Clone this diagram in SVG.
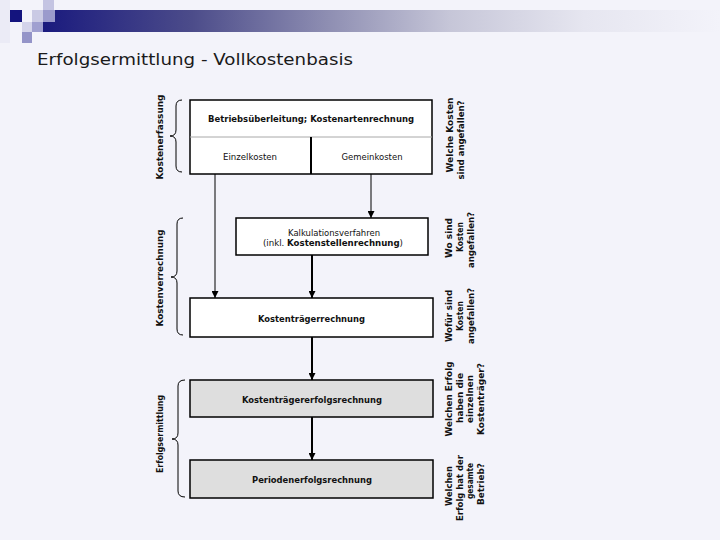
<svg xmlns="http://www.w3.org/2000/svg" width="720" height="540" viewBox="0 0 720 540">
<defs>
<linearGradient id="bar" x1="0" y1="0" x2="1" y2="0">
<stop offset="0" stop-color="#1a1a7e"/>
<stop offset="0.22" stop-color="#4c4c8a"/>
<stop offset="0.42" stop-color="#8e8eb2"/>
<stop offset="0.6" stop-color="#c6c6d8"/>
<stop offset="0.8" stop-color="#e6e6f0"/>
<stop offset="1" stop-color="#f3f3fa"/>
</linearGradient>
<marker id="ah" viewBox="0 0 8 8" refX="8" refY="4" markerWidth="7" markerHeight="7" markerUnits="userSpaceOnUse" orient="auto">
<path d="M0,0 L8,4 L0,8 z" fill="#000"/>
</marker>
</defs>
<style>
.t{font-family:"DejaVu Sans","Liberation Sans",sans-serif;fill:#111;}
.b{font-weight:bold;}
.s8{font-size:8.5px;}
.s9{font-size:9px;}
.box{fill:#fff;stroke:#000;stroke-width:1.5;}
.gbox{fill:#dedede;stroke:#000;stroke-width:1.5;}
.thin{stroke:#000;stroke-width:1;fill:none;}
.thick{stroke:#000;stroke-width:2;fill:none;}
.brace{stroke:#000;stroke-width:1;fill:none;}
</style>
<rect x="0" y="0" width="720" height="540" fill="#f3f3fa"/>
<g id="decoration">
<rect x="43" y="10" width="677" height="22" fill="url(#bar)"/>
<rect x="0" y="0" width="10" height="43" fill="#ebebf6"/>
<rect x="10" y="10" width="12" height="12" fill="#14147e"/>
<rect x="22" y="22" width="10" height="10" fill="#d4d4ea"/>
<rect x="32" y="10" width="11" height="12" fill="#cacae4"/>
<rect x="43" y="0" width="11" height="10" fill="#c4c4e2"/>
<rect x="43" y="10" width="12" height="12" fill="#9a9acc"/>
<rect x="32" y="22" width="11" height="10" fill="#a0a0d0"/>
<rect x="22" y="32" width="10" height="11" fill="#9494c8"/>
</g>
<text id="title" class="t" x="37" y="65" font-size="15.5" textLength="316" lengthAdjust="spacingAndGlyphs" style="fill:#1a1a1a">Erfolgsermittlung - Vollkostenbasis</text>
<g id="connectors">
<line class="thin" x1="215" y1="174" x2="215" y2="298" marker-end="url(#ah)"/>
<line class="thin" x1="371" y1="174" x2="371" y2="218" marker-end="url(#ah)"/>
<line class="thick" x1="312" y1="255" x2="312" y2="298" marker-end="url(#ah)"/>
<line class="thick" x1="312" y1="337" x2="312" y2="380" marker-end="url(#ah)"/>
<line class="thick" x1="312" y1="417" x2="312" y2="460" marker-end="url(#ah)"/>
</g>
<g id="box-kostenarten">
<rect class="box" x="190" y="100" width="242" height="74"/>
<line x1="190" y1="137" x2="432" y2="137" stroke="#a8a8a8" stroke-width="1"/>
<line x1="311" y1="137" x2="311" y2="174" stroke="#000" stroke-width="2"/>
<text class="t b s8" x="311" y="122" text-anchor="middle" textLength="206" lengthAdjust="spacingAndGlyphs">Betriebsüberleitung; Kostenartenrechnung</text>
<text class="t s8" x="250" y="160" text-anchor="middle" textLength="54" lengthAdjust="spacingAndGlyphs">Einzelkosten</text>
<text class="t s8" x="372" y="160" text-anchor="middle" textLength="61" lengthAdjust="spacingAndGlyphs">Gemeinkosten</text>
</g>
<g id="box-kalkulation">
<rect class="box" x="236" y="218" width="192" height="37"/>
<text class="t s8" x="334" y="236" text-anchor="middle" textLength="92" lengthAdjust="spacingAndGlyphs">Kalkulationsverfahren</text>
<text class="t s8" x="333" y="246" text-anchor="middle" textLength="140" lengthAdjust="spacingAndGlyphs">(inkl. <tspan class="b">Kostenstellenrechnung</tspan>)</text>
</g>
<g id="box-kostentraeger">
<rect class="box" x="190" y="298" width="243" height="39"/>
<text class="t b s8" x="311.5" y="322" text-anchor="middle" textLength="107" lengthAdjust="spacingAndGlyphs">Kostenträgerrechnung</text>
</g>
<g id="box-ktr-erfolg">
<rect class="gbox" x="190" y="380" width="243" height="37"/>
<text class="t b s8" x="312" y="403" text-anchor="middle" textLength="140" lengthAdjust="spacingAndGlyphs">Kostenträgererfolgsrechnung</text>
</g>
<g id="box-periode">
<rect class="gbox" x="190" y="460" width="243" height="38"/>
<text class="t b s8" x="312" y="483" text-anchor="middle" textLength="120" lengthAdjust="spacingAndGlyphs">Periodenerfolgsrechnung</text>
</g>
<g id="brace-kostenerfassung">
<path class="brace" d="M182,100 Q176,100 176,106 L176,130 Q176,136 170,136 Q176,136 176,142 L176,166 Q176,172 182,172"/>
<text class="t b s9" transform="translate(163,137) rotate(-90)" text-anchor="middle" textLength="85" lengthAdjust="spacingAndGlyphs">Kostenerfassung</text>
</g>
<g id="brace-kostenverrechnung">
<path class="brace" d="M183,218 Q177,218 177,224 L177,271 Q177,277 171,277 Q177,277 177,283 L177,329 Q177,335 183,335"/>
<text class="t b s9" transform="translate(163,278) rotate(-90)" text-anchor="middle" textLength="97" lengthAdjust="spacingAndGlyphs">Kostenverrechnung</text>
</g>
<g id="brace-erfolgsermittlung">
<path class="brace" d="M185,380 Q178,380 178,386 L178,433 Q178,439 172,439 Q178,439 178,445 L178,491 Q178,497 185,497"/>
<text class="t b s9" transform="translate(163,434) rotate(-90)" text-anchor="middle" textLength="78" lengthAdjust="spacingAndGlyphs">Erfolgsermittlung</text>
</g>
<g id="q-welche-kosten">
<text class="t b s9" transform="translate(453,135) rotate(-90)" text-anchor="middle" textLength="75" lengthAdjust="spacingAndGlyphs">Welche Kosten</text>
<text class="t b s8" transform="translate(464,140) rotate(-90)" text-anchor="middle" textLength="79" lengthAdjust="spacingAndGlyphs">sind angefallen?</text>
</g>
<g id="q-wo">
<text class="t b s8" transform="translate(452,238) rotate(-90)" text-anchor="middle" textLength="40" lengthAdjust="spacingAndGlyphs">Wo sind</text>
<text class="t b s8" transform="translate(463,237) rotate(-90)" text-anchor="middle" textLength="30" lengthAdjust="spacingAndGlyphs">Kosten</text>
<text class="t b s8" transform="translate(474,240) rotate(-90)" text-anchor="middle" textLength="56" lengthAdjust="spacingAndGlyphs">angefallen?</text>
</g>
<g id="q-wofuer">
<text class="t b s8" transform="translate(452,316) rotate(-90)" text-anchor="middle" textLength="52" lengthAdjust="spacingAndGlyphs">Wofür sind</text>
<text class="t b s8" transform="translate(463,316) rotate(-90)" text-anchor="middle" textLength="30" lengthAdjust="spacingAndGlyphs">Kosten</text>
<text class="t b s8" transform="translate(474,316) rotate(-90)" text-anchor="middle" textLength="56" lengthAdjust="spacingAndGlyphs">angefallen?</text>
</g>
<g id="q-kostentraeger">
<text class="t b s8" transform="translate(452,399) rotate(-90)" text-anchor="middle" textLength="75" lengthAdjust="spacingAndGlyphs">Welchen Erfolg</text>
<text class="t b s8" transform="translate(463,398) rotate(-90)" text-anchor="middle" textLength="50" lengthAdjust="spacingAndGlyphs">haben die</text>
<text class="t b s8" transform="translate(473,399) rotate(-90)" text-anchor="middle" textLength="48" lengthAdjust="spacingAndGlyphs">einzelnen</text>
<text class="t b s8" transform="translate(484,399) rotate(-90)" text-anchor="middle" textLength="72" lengthAdjust="spacingAndGlyphs">Kostenträger?</text>
</g>
<g id="q-betrieb">
<text class="t b s8" transform="translate(452,486) rotate(-90)" text-anchor="middle" textLength="40" lengthAdjust="spacingAndGlyphs">Welchen</text>
<text class="t b s8" transform="translate(463,488) rotate(-90)" text-anchor="middle" textLength="66" lengthAdjust="spacingAndGlyphs">Erfolg hat der</text>
<text class="t b s8" transform="translate(473,481) rotate(-90)" text-anchor="middle" textLength="36" lengthAdjust="spacingAndGlyphs">gesamte</text>
<text class="t b s8" transform="translate(484,484) rotate(-90)" text-anchor="middle" textLength="42" lengthAdjust="spacingAndGlyphs">Betrieb?</text>
</g>
</svg>
